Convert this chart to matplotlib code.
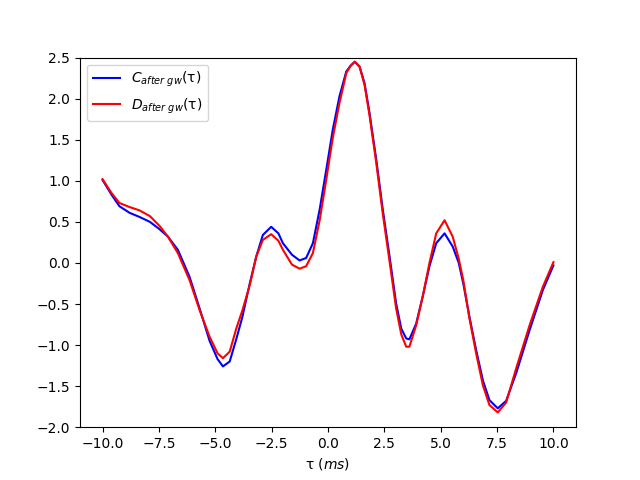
import matplotlib
matplotlib.use('Agg')
import matplotlib.pyplot as plt

# tau values (ms)
tau = [-10, -9.6, -9.25, -8.8, -8.36, -7.9, -7.47, -7.1, -6.66, -6.14,
       -5.7, -5.25, -4.9, -4.66, -4.36, -4.07, -3.8, -3.47, -3.18, -2.89,
       -2.52, -2.2, -2.0, -1.6, -1.26, -0.97, -0.67, -0.37, -0.08, 0.21,
       0.51, 0.81, 1.0, 1.19, 1.40, 1.62, 1.84, 2.14, 2.43, 2.73,
       3.02, 3.25, 3.47, 3.61, 3.91, 4.2, 4.5, 4.8, 5.17, 5.53,
       5.8, 6.0, 6.27, 6.57, 6.87, 7.16, 7.53, 7.9, 8.35, 8.94,
       9.53, 10.0]

c_after = [1.01, 0.83, 0.69, 0.61, 0.56, 0.50, 0.41, 0.32, 0.16, -0.17,
           -0.55, -0.95, -1.17, -1.26, -1.20, -0.93, -0.66, -0.25, 0.08, 0.34,
           0.44, 0.36, 0.24, 0.10, 0.03, 0.06, 0.24, 0.65, 1.13, 1.62,
           2.03, 2.33, 2.40, 2.45, 2.39, 2.19, 1.83, 1.26, 0.65, 0.08,
           -0.49, -0.80, -0.92, -0.93, -0.74, -0.41, -0.04, 0.24, 0.36, 0.20,
           0.00, -0.25, -0.65, -1.06, -1.43, -1.67, -1.77, -1.68, -1.34, -0.82,
           -0.33, -0.03]

d_after = [1.02, 0.85, 0.73, 0.68, 0.64, 0.57, 0.45, 0.32, 0.12, -0.21,
           -0.57, -0.90, -1.10, -1.16, -1.08, -0.80, -0.58, -0.27, 0.08, 0.28,
           0.35, 0.27, 0.16, -0.02, -0.07, -0.04, 0.12, 0.52, 1.01, 1.52,
           1.95, 2.31, 2.40, 2.45, 2.39, 2.17, 1.80, 1.22, 0.60, 0.02,
           -0.55, -0.87, -1.02, -1.02, -0.76, -0.41, 0.00, 0.36, 0.52, 0.32,
           0.05, -0.21, -0.67, -1.10, -1.49, -1.73, -1.82, -1.70, -1.28, -0.76,
           -0.29, 0.01]

fig, ax = plt.subplots(figsize=(6.4, 4.8), dpi=100)

ax.plot(tau, c_after, color='blue', label=r'$C_{after\ gw}$(τ)')
ax.plot(tau, d_after, color='red', label=r'$D_{after\ gw}$(τ)')

ax.set_ylim(-2.0, 2.5)
ax.set_xlabel(r'τ $(ms)$')
ax.legend(loc='upper left')

fig.savefig('out.png', dpi=100)
